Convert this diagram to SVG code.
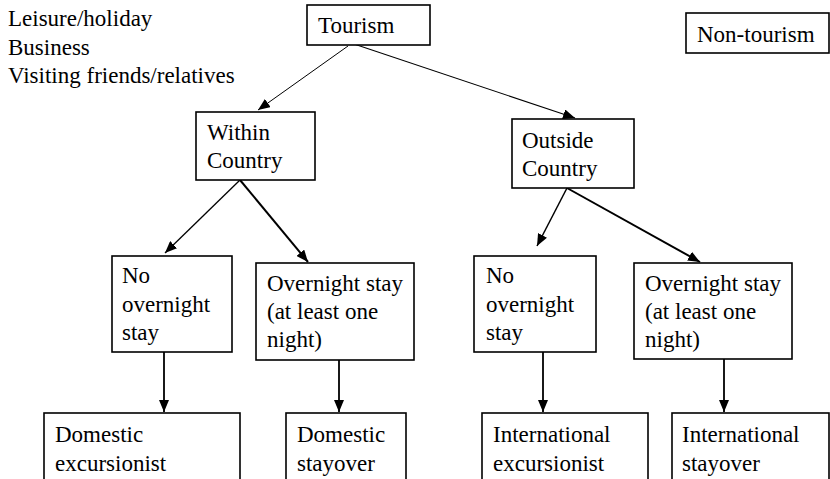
<svg xmlns="http://www.w3.org/2000/svg" width="830" height="479" viewBox="0 0 830 479" font-family="'Liberation Serif', 'DejaVu Serif', serif">
<style>
.box{fill:#fff;stroke:#000;stroke-width:1.6}
.t{font-family:'Liberation Serif','DejaVu Serif',serif;font-size:23px;fill:#000}
.c{stroke:#000;fill:none}
</style>
<defs>
<marker id="ah" markerUnits="userSpaceOnUse" viewBox="0 0 12 10" refX="12" refY="5" markerWidth="12" markerHeight="10" orient="auto">
<path d="M0,0 L12,5 L0,10 z" fill="#000"/>
</marker>
</defs>
<rect width="830" height="479" fill="#fff"/>
<g id="purposes">
<text class="t" x="8" y="26">Leisure/holiday</text>
<text class="t" x="8" y="55">Business</text>
<text class="t" x="8" y="83">Visiting friends/relatives</text>
</g>
<g id="connectors">
<line class="c" x1="348" y1="46" x2="258" y2="110" stroke-width="1" marker-end="url(#ah)"/>
<line class="c" x1="354" y1="44" x2="575" y2="118" stroke-width="1.1" marker-end="url(#ah)"/>
<line class="c" x1="240" y1="180" x2="165" y2="253" stroke-width="1.3" marker-end="url(#ah)"/>
<line class="c" x1="240" y1="180" x2="308" y2="262" stroke-width="2" marker-end="url(#ah)"/>
<line class="c" x1="567" y1="188" x2="537" y2="246" stroke-width="1.5" marker-end="url(#ah)"/>
<line class="c" x1="567" y1="188" x2="700" y2="262" stroke-width="2" marker-end="url(#ah)"/>
<line class="c" x1="164" y1="352" x2="164" y2="412" stroke-width="1.8" marker-end="url(#ah)"/>
<line class="c" x1="339" y1="360" x2="339" y2="412" stroke-width="1.8" marker-end="url(#ah)"/>
<line class="c" x1="543" y1="352" x2="543" y2="412" stroke-width="1.8" marker-end="url(#ah)"/>
<line class="c" x1="724" y1="359" x2="724" y2="412" stroke-width="1.8" marker-end="url(#ah)"/>
</g>
<g id="tourism">
<rect class="box" x="307" y="5" width="123" height="40"/>
<text class="t" x="318" y="33">Tourism</text>
</g>
<g id="non-tourism">
<rect class="box" x="686" y="13" width="143" height="40"/>
<text class="t" x="697" y="42">Non-tourism</text>
</g>
<g id="within">
<rect class="box" x="196" y="112" width="119" height="68"/>
<text class="t" x="207" y="140">Within</text>
<text class="t" x="207" y="168">Country</text>
</g>
<g id="outside">
<rect class="box" x="512" y="119" width="122" height="69"/>
<text class="t" x="522" y="148">Outside</text>
<text class="t" x="522" y="176">Country</text>
</g>
<g id="dom-no-overnight">
<rect class="box" x="112" y="256" width="120" height="96"/>
<text class="t" x="122" y="283">No</text>
<text class="t" x="122" y="312">overnight</text>
<text class="t" x="122" y="340">stay</text>
</g>
<g id="dom-overnight">
<rect class="box" x="256" y="263" width="158" height="97"/>
<text class="t" x="267" y="291">Overnight stay</text>
<text class="t" x="267" y="319">(at least one</text>
<text class="t" x="267" y="347">night)</text>
</g>
<g id="int-no-overnight">
<rect class="box" x="474" y="256" width="122" height="96"/>
<text class="t" x="486" y="283">No</text>
<text class="t" x="486" y="312">overnight</text>
<text class="t" x="486" y="340">stay</text>
</g>
<g id="int-overnight">
<rect class="box" x="634" y="263" width="158" height="96"/>
<text class="t" x="645" y="291">Overnight stay</text>
<text class="t" x="645" y="319">(at least one</text>
<text class="t" x="645" y="347">night)</text>
</g>
<g id="domestic-excursionist">
<rect class="box" x="44" y="413" width="196" height="80"/>
<text class="t" x="55" y="442">Domestic</text>
<text class="t" x="55" y="471">excursionist</text>
</g>
<g id="domestic-stayover">
<rect class="box" x="286" y="413" width="120" height="80"/>
<text class="t" x="297" y="442">Domestic</text>
<text class="t" x="297" y="471">stayover</text>
</g>
<g id="international-excursionist">
<rect class="box" x="482" y="413" width="166" height="80"/>
<text class="t" x="493" y="442">International</text>
<text class="t" x="493" y="471">excursionist</text>
</g>
<g id="international-stayover">
<rect class="box" x="672" y="413" width="157" height="80"/>
<text class="t" x="682" y="442">International</text>
<text class="t" x="682" y="471">stayover</text>
</g>
</svg>
